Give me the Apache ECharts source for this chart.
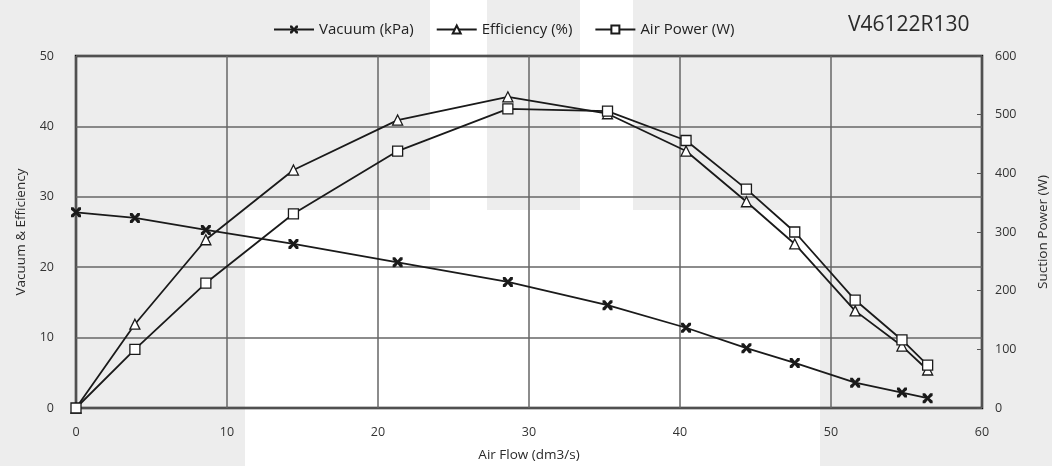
<!DOCTYPE html>
<html><head><meta charset="utf-8">
<script src="https://cdn.jsdelivr.net/npm/echarts@6/dist/echarts.min.js"></script>
<style>html,body{margin:0;padding:0;background:#ededed}#c{width:1052px;height:466px}</style>
</head><body><div id="c"></div>
<script>
const airFlow = [0, 3.9, 8.6, 14.4, 21.3, 28.6, 35.2, 40.4, 44.4, 47.6, 51.6, 54.7, 56.4];
const vacuum = [27.8, 27.0, 25.3, 23.3, 20.7, 17.9, 14.6, 11.4, 8.5, 6.4, 3.6, 2.2, 1.4];
const efficiency = [0, 11.9, 23.9, 33.8, 40.9, 44.2, 41.8, 36.5, 29.3, 23.3, 13.8, 8.8, 5.4];
const airPower = [0, 100, 213, 331, 438, 510, 506, 456, 373, 300, 184, 116, 73];
const xTicks = [0, 10, 20, 30, 40, 50, 60];
const leftTicks = [0, 10, 20, 30, 40, 50];
const rightTicks = [0, 100, 200, 300, 400, 500, 600];

const pair = (xs, ys) => xs.map((x, i) => [x, ys[i]]);
const FONT = '"Open Sans", "Noto Sans", sans-serif';
const xPath = 'path://M0,0 L2.5,0 L5,3 L7.5,0 L10,0 L10,2.5 L7,5 L10,7.5 L10,10 L7.5,10 L5,7 L2.5,10 L0,10 L0,7.5 L3,5 L0,2.5 Z';

const chart = echarts.init(document.getElementById('c'));
chart.setOption({
  backgroundColor: '#ededed',
  animation: false,
  textStyle: { fontFamily: FONT },
  graphic: [
    { type: 'rect', z: -10, shape: { x: 245, y: 210, width: 575, height: 256 }, style: { fill: '#ffffff' } },
    { type: 'rect', z: -10, shape: { x: 430, y: 0, width: 57, height: 210 }, style: { fill: '#ffffff' } },
    { type: 'rect', z: -10, shape: { x: 580, y: 0, width: 53, height: 210 }, style: { fill: '#ffffff' } },
    { type: 'text', left: 848, top: 15, style: { text: 'V46122R130', fill: '#2a2a2a', font: '21px ' + FONT } }
  ],
  legend: {
    left: 268, top: 17, itemWidth: 40, itemHeight: 10, itemGap: 22,
    textStyle: { fontSize: 15, color: '#222', fontFamily: FONT },
    data: ['Vacuum (kPa)', 'Efficiency (%)', 'Air Power (W)']
  },
  grid: { left: 76, right: 70, top: 56, bottom: 58, outerBoundsMode: 'none', containLabel: false, show: true, borderColor: '#111', borderWidth: 2.5, backgroundColor: 'transparent' },
  xAxis: {
    type: 'value', min: 0, max: 60, interval: 10,
    name: 'Air Flow (dm3/s)', nameLocation: 'middle', nameGap: 40,
    nameTextStyle: { fontSize: 13.5, color: '#2a2a2a' },
    axisLine: { show: false }, axisTick: { show: false },
    axisLabel: { color: '#333', fontSize: 12.5, margin: 18, customValues: xTicks },
    splitLine: { show: true, lineStyle: { color: '#666', width: 1.5 } }
  },
  yAxis: [
    {
      type: 'value', min: 0, max: 50, interval: 10,
      name: 'Vacuum & Efficiency', nameLocation: 'middle', nameGap: 48,
      nameTextStyle: { fontSize: 13.5, color: '#2a2a2a' },
      axisLine: { show: false }, axisTick: { show: false },
      axisLabel: { color: '#333', fontSize: 12.5, margin: 22, customValues: leftTicks },
      splitLine: { show: true, lineStyle: { color: '#666', width: 1.5 } }
    },
    {
      type: 'value', min: 0, max: 600, interval: 100, position: 'right',
      name: 'Suction Power (W)', nameLocation: 'middle', nameGap: 54,
      nameTextStyle: { fontSize: 13.5, color: '#2a2a2a' },
      axisLine: { show: false },
      axisTick: { show: true, inside: true, length: 5, lineStyle: { color: '#555' } },
      axisLabel: { color: '#333', fontSize: 12.5, margin: 13, customValues: rightTicks },
      splitLine: { show: false }
    }
  ],
  series: [
    {
      name: 'Vacuum (kPa)', type: 'line', yAxisIndex: 0, data: pair(airFlow, vacuum),
      symbol: xPath, symbolSize: 10, showAllSymbol: true,
      lineStyle: { color: '#1a1a1a', width: 1.8 }, itemStyle: { color: '#1a1a1a', borderWidth: 0 }
    },
    {
      name: 'Efficiency (%)', type: 'line', yAxisIndex: 0, data: pair(airFlow, efficiency),
      symbol: 'triangle', symbolSize: 10, showAllSymbol: true,
      lineStyle: { color: '#1a1a1a', width: 1.8 }, itemStyle: { color: '#ffffff', borderColor: '#1a1a1a', borderWidth: 1.3 }
    },
    {
      name: 'Air Power (W)', type: 'line', yAxisIndex: 1, data: pair(airFlow, airPower),
      symbol: 'rect', symbolSize: 10, showAllSymbol: true,
      lineStyle: { color: '#1a1a1a', width: 1.8 }, itemStyle: { color: '#ffffff', borderColor: '#1a1a1a', borderWidth: 1.3 }
    }
  ]
});
</script></body></html>
